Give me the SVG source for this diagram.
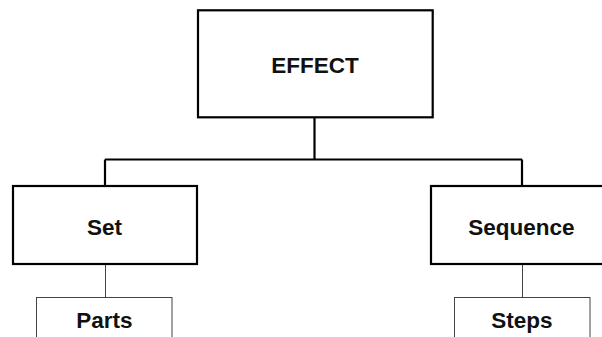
<svg xmlns="http://www.w3.org/2000/svg" width="602" height="337" viewBox="0 0 602 337">
<style>
.main{fill:#fff;stroke:#000;stroke-width:2.2}
.sub{fill:#fff;stroke:#444;stroke-width:1}
.conn{fill:none;stroke:#000;stroke-width:2.2}
.thin{fill:none;stroke:#444;stroke-width:1}
text{font-family:"Liberation Sans",Arial,sans-serif;font-weight:bold;font-size:22.5px;fill:#111;text-anchor:middle}
</style>
<rect width="602" height="337" fill="#fff"/>
<g id="connectors">
<path class="conn" d="M314.5,117 V159.5 M105,159.5 H522 M105,159.5 V186 M522,159.5 V186"/>
<path class="thin" d="M105.5,264 V297 M522.5,264 V297"/>
</g>
<g id="effect">
<rect class="main" x="198" y="10.3" width="234.7" height="107"/>
<text x="315" y="73">EFFECT</text>
</g>
<g id="set">
<rect class="main" x="13" y="186" width="184" height="78"/>
<text x="104.5" y="235">Set</text>
</g>
<g id="sequence">
<rect class="main" x="431" y="186" width="180" height="78"/>
<text x="521.5" y="235">Sequence</text>
</g>
<g id="parts">
<rect class="sub" x="36.5" y="297.5" width="135.5" height="60"/>
<text x="104.5" y="328">Parts</text>
</g>
<g id="steps">
<rect class="sub" x="454.5" y="297.5" width="135.5" height="60"/>
<text x="522" y="328">Steps</text>
</g>
</svg>
